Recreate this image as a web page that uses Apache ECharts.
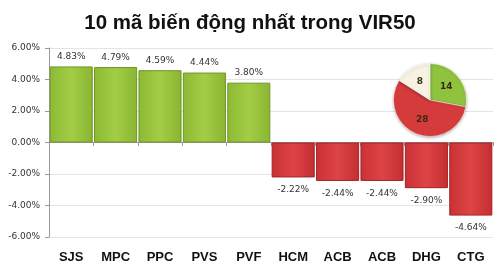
<!DOCTYPE html>
<html><head><meta charset="utf-8">
<script src="https://cdn.jsdelivr.net/npm/echarts@6/dist/echarts.min.js"></script>
<style>html,body{margin:0;padding:0;background:#fff}#c{width:500px;height:266px}</style>
</head><body><div id="c"></div>
<script>
const categories = ['SJS','MPC','PPC','PVS','PVF','HCM','ACB','ACB','DHG','CTG'];
const changes = [4.83, 4.79, 4.59, 4.44, 3.80, -2.22, -2.44, -2.44, -2.90, -4.64];
const yTicks = [-6, -4, -2, 0, 2, 4, 6];
const pieNames = ['Tăng', 'Giảm', 'Đứng giá'];
const pieValues = [14, 28, 8];

const green = new echarts.graphic.LinearGradient(0,0,1,0,[
  {offset:0,color:'#8cb934'},{offset:0.5,color:'#a3cd45'},{offset:1,color:'#8ab532'}]);
const red = new echarts.graphic.LinearGradient(0,0,1,0,[
  {offset:0,color:'#c93134'},{offset:0.5,color:'#dc4446'},{offset:1,color:'#c52e31'}]);

const chart = echarts.init(document.getElementById('c'), null, {renderer:'canvas'});
chart.setOption({
  animation:false,
  title:{text:'10 mã biến động nhất trong VIR50', left:'center', top:8,
    textStyle:{fontFamily:'Liberation Sans', fontWeight:'bold', fontSize:20.5, color:'#111'}},
  grid:[{left:49, right:7, top:48, bottom:29},
        {left:49, right:7, top:142, height:1}],
  xAxis:[{type:'category', data:categories, position:'bottom', gridIndex:0,
    axisLine:{show:false}, axisTick:{show:false},
    axisLabel:{fontFamily:'Liberation Sans', fontWeight:'bold', fontSize:13, color:'#111', margin:14}},
   {type:'category', data:categories, position:'top', gridIndex:1,
    axisLine:{show:true, onZero:false, lineStyle:{color:'#999'}},
    axisTick:{show:true, inside:true, length:4, lineStyle:{color:'#999'}},
    axisLabel:{show:false}, splitLine:{show:false}}],
  yAxis:[{type:'value', gridIndex:0, min:yTicks[0], max:yTicks[yTicks.length-1], interval:2,
    axisLine:{show:true, lineStyle:{color:'#999'}},
    axisTick:{show:true, length:4, lineStyle:{color:'#999'}},
    splitLine:{lineStyle:{color:'#e4e4e4'}},
    axisLabel:{fontFamily:'DejaVu Sans', fontSize:9, color:'#333', margin:9,
      formatter:v=>v.toFixed(2)+'%'}},
   {type:'value', gridIndex:1, show:false}],
  series:[{
    type:'bar', xAxisIndex:0, yAxisIndex:0,
    data:changes.map(v=>({value:v,
      itemStyle:{color:v>=0?green:red, borderColor:v>=0?'#6f9526':'#a42326', borderWidth:1},
      label:{position:v>=0?'top':'bottom', distance: v>=0?5:8}})),
    barCategoryGap:'3%',
    label:{show:true, fontFamily:'DejaVu Sans', fontSize:9, color:'#333',
      formatter:p=>p.value.toFixed(2)+'%'}
  },{
    type:'pie', center:[430,100], radius:36.5, startAngle:90, clockwise:true, z:5,
    data:pieValues.map((v,i)=>({name:pieNames[i], value:v})),
    color:['#8fc33e','#d63b3c','#f7f2e2'],
    itemStyle:{borderColor:'#fff', borderWidth:0.5, shadowBlur:3, shadowColor:'rgba(0,0,0,0.3)', shadowOffsetY:1},
    label:{show:true, position:'inner', formatter:'{c}', fontFamily:'DejaVu Sans', fontWeight:'bold', fontSize:9, color:'#3a2a10'},
    labelLine:{show:false}
  }]
});
</script></body></html>
